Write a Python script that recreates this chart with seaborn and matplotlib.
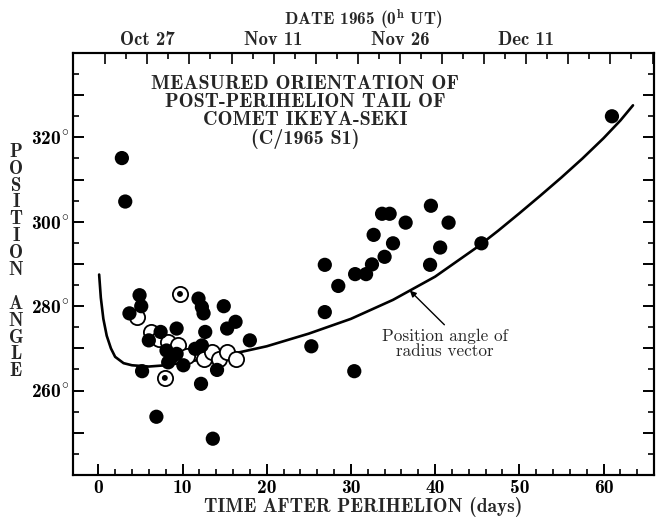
import matplotlib
matplotlib.use("Agg")
import matplotlib.pyplot as plt
import seaborn as sns
import numpy as np
import pandas as pd

# ---------------- data ----------------
filled_days = [2.8, 3.2, 3.7, 4.9, 5.1, 5.2, 6.0, 6.9, 7.4, 8.1, 8.3, 8.7, 9.3, 9.3,
               10.1, 11.5, 11.9, 12.2, 12.3, 12.3, 12.5, 12.7, 13.6, 14.1, 14.9,
               15.3, 16.3, 18.0,
               25.3, 26.9, 26.9, 28.5, 30.4, 30.5, 31.8, 32.5, 32.7, 33.7, 34.0,
               34.6, 35.0, 36.5, 39.4, 39.5, 40.6, 41.6, 45.5, 61.0]
filled_angles = [315.1, 304.8, 278.3, 282.6, 280.0, 264.6, 271.9, 253.8, 273.9, 269.5,
                 266.7, 267.9, 274.7, 268.7, 266.0, 269.9, 281.8, 261.6, 279.8, 270.7,
                 278.3, 273.9, 248.6, 264.9, 280.0, 274.7, 276.3, 271.9,
                 270.5, 278.6, 289.8, 284.8, 264.6, 287.6, 287.6, 289.9, 296.9, 301.9,
                 291.7, 301.9, 294.9, 299.8, 289.8, 303.8, 293.9, 299.8, 294.9, 325.0]

open_days = [4.6, 6.2, 7.2, 8.3, 9.5, 10.5, 12.5, 13.5, 14.3, 15.3, 16.3]
open_angles = [277.5, 273.9, 272.3, 271.5, 270.7, 268.3, 267.5, 269.1, 267.5, 269.1, 267.5]

dotted_days = [7.9, 9.7]
dotted_angles = [263.0, 282.9]

curve_days = [0.1, 0.3, 0.6, 1.0, 1.5, 2.0, 3.0, 4.0, 6.0, 8.0, 10.0, 12.0, 15.0,
              20.0, 25.0, 30.0, 35.0, 40.0, 45.0, 47.5, 50.0, 52.5, 55.0, 57.5,
              60.0, 62.0, 63.5]
curve_angles = [287.5, 282.0, 277.0, 273.0, 270.0, 268.0, 266.5, 266.0, 265.7, 266.0,
                266.6, 267.3, 268.3, 270.5, 273.5, 277.0, 281.5, 287.0, 294.0, 297.9,
                302.0, 306.2, 310.5, 315.0, 319.8, 324.0, 327.6]

x_tick_values = [0, 10, 20, 30, 40, 50, 60]
y_tick_values = [260, 280, 300, 320]
date_days = [5.82, 20.82, 35.82, 50.82]
date_labels = ["Oct 27", "Nov 11", "Nov 26", "Dec 11"]

title_text = "MEASURED ORIENTATION OF\nPOST-PERIHELION TAIL OF\nCOMET IKEYA-SEKI\n(C/1965 S1)"
note_text = "Position angle of\nradius vector"
xlabel_text = "TIME AFTER PERIHELION (days)"
ylabel_text = "POSITION ANGLE"
top_label_text = r"DATE 1965 (0$^{\mathbf{h}}$ UT)"

# ---------------- style ----------------
sns.set_theme(style="ticks")
plt.rcParams["font.family"] = ["cmb10", "DejaVu Serif"]
plt.rcParams["mathtext.fontset"] = "cm"
plt.rcParams["axes.unicode_minus"] = False
plt.rcParams["axes.linewidth"] = 1.5
plt.rcParams["axes.edgecolor"] = "black"

fig = plt.figure(figsize=(6.64, 5.21), dpi=100)
ax = fig.add_axes([0.110, 0.0883, 0.875, 0.810])
ax.set_facecolor("white")

# curve
curve_df = pd.DataFrame({"day": curve_days, "angle": curve_angles})
sns.lineplot(data=curve_df, x="day", y="angle", sort=False, estimator=None,
             color="black", linewidth=1.9, ax=ax, zorder=2)

# open circles
open_df = pd.DataFrame({"day": open_days, "angle": open_angles})
sns.scatterplot(data=open_df, x="day", y="angle", s=120, facecolor="white",
                edgecolor="black", linewidth=1.3, ax=ax, zorder=3)

# dotted circles
dot_df = pd.DataFrame({"day": dotted_days, "angle": dotted_angles})
sns.scatterplot(data=dot_df, x="day", y="angle", s=120, facecolor="white",
                edgecolor="black", linewidth=1.3, ax=ax, zorder=3)
sns.scatterplot(data=dot_df, x="day", y="angle", s=18, color="black",
                edgecolor="none", ax=ax, zorder=3.5)

# filled circles
filled_df = pd.DataFrame({"day": filled_days, "angle": filled_angles})
sns.scatterplot(data=filled_df, x="day", y="angle", s=105, color="black",
                edgecolor="none", ax=ax, zorder=4)

ax.set_xlim(-3, 66)
ax.set_ylim(240, 340)

# bottom ticks
ax.set_xticks(x_tick_values)
ax.set_xticklabels([str(v) for v in x_tick_values])
ax.set_xticks(np.arange(0, 66, 2), minor=True)
# left / right ticks
ax.set_yticks(np.arange(250, 340, 10))
ax.set_yticklabels([(str(v) + r"$^{\circ}$") if v in y_tick_values else ""
                    for v in np.arange(250, 340, 10)])
ax.set_yticks(np.arange(245, 340, 10), minor=True)
ax.tick_params(axis="both", which="major", direction="in", length=8, width=1.4,
               labelsize=14, pad=3, colors="black")
ax.tick_params(axis="both", which="minor", direction="in", length=4.5, width=1.4)
ax.tick_params(axis="y", which="both", right=True, left=True)
ax.tick_params(axis="x", which="both", top=False, bottom=True)

ax.set_xlabel(xlabel_text, fontsize=14, labelpad=0)
ax.set_ylabel("")
for sp in ax.spines.values():
    sp.set_visible(True)
    sp.set_linewidth(1.5)
    sp.set_color("black")

# top date axis
ax2 = ax.twiny()
ax2.set_xlim(ax.get_xlim())
major_top = np.arange(0.82, 66, 5)
ax2.set_xticks(major_top)
ax2.set_xticklabels([date_labels[date_days.index(round(v, 2))] if round(v, 2) in date_days else ""
                     for v in major_top])
ax2.set_xticks(np.arange(3.32, 66, 5), minor=True)
ax2.tick_params(axis="x", which="major", direction="in", length=8, width=1.4,
                labelsize=13.5, pad=3)
ax2.tick_params(axis="x", which="minor", direction="in", length=4.5, width=1.4)
ax2.set_xlabel(top_label_text, fontsize=12.5, labelpad=4)

# title inside
ax.text(0.399, 0.948, title_text, transform=ax.transAxes, ha="center", va="top",
        fontsize=14.5, linespacing=1.0, zorder=5)

# annotation
ax.text(41.2, 271.1, note_text, ha="center", va="center", fontsize=12.3,
        family=["cmr10", "DejaVu Serif"], linespacing=1.0, zorder=5)
ax.annotate("", xy=(37.0, 283.7), xytext=(41.1, 275.6),
            arrowprops=dict(arrowstyle="-|>", color="black", lw=1.0,
                            shrinkA=0, shrinkB=0, mutation_scale=9))

# vertical stacked y label
fig.text(0.024, 0.498, "\n".join(list("POSITION")) + "\n\n" + "\n".join(list("ANGLE")),
         ha="center", va="center", fontsize=13.5, linespacing=0.92)

fig.savefig("out.png", dpi=100, facecolor="white")
